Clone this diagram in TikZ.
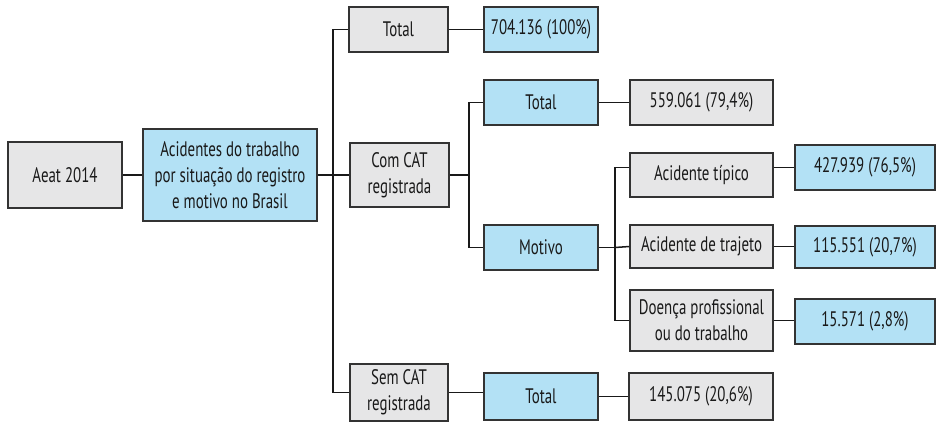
\documentclass[tikz,border=0pt]{standalone}
\usepackage{fontspec}
\setmainfont[FakeStretch=0.71]{PT Sans}
\begin{document}
\begin{tikzpicture}[x=1pt,y=-1pt,
  box/.style={draw=boxline,line width=1.5pt,inner sep=0pt,align=center,
    font=\fontsize{21}{26}\selectfont,text=black!90},
  gbox/.style={box,fill=boxgray},
  bbox/.style={box,fill=boxblue},
  link/.style={draw=black!90,line width=1.5pt}]
\definecolor{boxgray}{HTML}{E6E6E7}
\definecolor{boxblue}{HTML}{B3E1F5}
\definecolor{boxline}{HTML}{333333}
\useasboundingbox[fill=white] (0,0) rectangle (936,424);

% level 0 and 1
\node[gbox,minimum width=114,minimum height=66] (aeat) at (65,175) {Aeat 2014};
\node[bbox,minimum width=174,minimum height=92] (acid) at (230,175)
  {Acidentes do trabalho\\por situação do registro\\e motivo no Brasil};

% level 2
\node[gbox,minimum width=99,minimum height=45] (tot1) at (398.5,29.5) {Total};
\node[gbox,minimum width=99,minimum height=64] (com) at (399.5,175) {Com CAT\\registrada};
\node[gbox,minimum width=98,minimum height=57] (sem) at (399,392.5) {Sem CAT\\registrada};

% level 3
\node[bbox,minimum width=114,minimum height=45] (v1) at (541,29.5) {704.136 (100\%)};
\node[bbox,minimum width=114,minimum height=45] (tot2) at (541,102.5) {Total};
\node[bbox,minimum width=114,minimum height=45] (mot) at (541,247.5) {Motivo};
\node[bbox,minimum width=114,minimum height=47] (tot3) at (541,396.5) {Total};

% level 4
\node[gbox,minimum width=143,minimum height=45] (v2) at (701.5,102.5) {559.061 (79,4\%)};
\node[gbox,minimum width=143,minimum height=44] (tip) at (701.5,175) {Acidente típico};
\node[gbox,minimum width=143,minimum height=43] (traj) at (701.5,246.5) {Acidente de trajeto};
\node[gbox,minimum width=143,minimum height=61] (doe) at (701.5,320.5) {Doença profissional\\ou do trabalho};
\node[gbox,minimum width=144,minimum height=47] (v6) at (701,396.5) {145.075 (20,6\%)};

% level 5
\node[bbox,minimum width=140,minimum height=45] (v3) at (865,167.5) {427.939 (76,5\%)};
\node[bbox,minimum width=140,minimum height=42] (v4) at (865,247) {115.551 (20,7\%)};
\node[bbox,minimum width=140,minimum height=45] (v5) at (865,321.5) {15.571 (2,8\%)};

% junctions
\coordinate (j1) at (333,175);
\coordinate (j2) at (469,175);
\coordinate (j3) at (615,247.5);

% connectors
\draw[link] (aeat.east) -- (acid.west);
\draw[link] (acid.east) -- (j1);
\draw[link] (tot1.west) -- (tot1.west -| j1) -- (sem.west -| j1) -- (sem.west);
\draw[link] (j1) -- (com.west);
\draw[link] (tot1.east) -- (v1.west);

\draw[link] (com.east) -- (j2);
\draw[link] (tot2.west) -- (tot2.west -| j2) -- (mot.west -| j2) -- (mot.west);
\draw[link] (tot2.east) -- (v2.west);

\draw[link] (mot.east) -- (j3);
\draw[link] (tip.west |- v3) -- (v3 -| j3) -- (doe.west -| j3) -- (doe.west);
\draw[link] (j3) -- (traj.west);
\draw[link] (tip.east |- v3) -- (v3.west);
\draw[link] (traj.east) -- (traj.east -| v4.west);
\draw[link] (doe.east) -- (doe.east -| v5.west);

\draw[link] (sem.east) -- (sem.east -| tot3.west);
\draw[link] (tot3.east) -- (v6.west);
\end{tikzpicture}
\end{document}
